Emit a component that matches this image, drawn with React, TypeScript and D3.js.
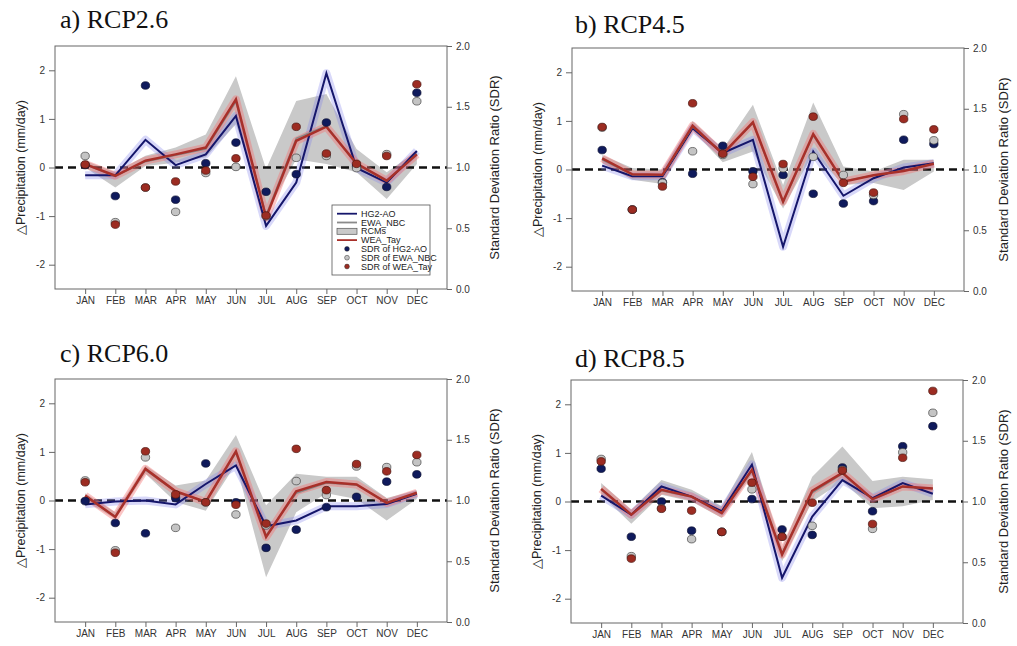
import { useEffect, useRef } from 'react'
import * as d3 from 'd3'

const months = ['JAN', 'FEB', 'MAR', 'APR', 'MAY', 'JUN', 'JUL', 'AUG', 'SEP', 'OCT', 'NOV', 'DEC']

// a) RCP2.6
const hg2A = [-0.16, -0.16, 0.57, 0.05, 0.27, 1.06, -1.2, -0.31, 1.94, -0.01, -0.31, 0.34]
const ewaA = [0.06, -0.18, 0.12, 0.25, 0.38, 1.35, -0.98, 0.6, 0.86, 0.06, -0.28, 0.28]
const weaA = [0.07, -0.17, 0.14, 0.27, 0.41, 1.4, -1.03, 0.55, 0.84, 0.08, -0.27, 0.27]
const rcmHiA = [0.14, -0.1, 0.24, 0.41, 0.68, 1.88, -0.03, 1.37, 1.51, 0.38, -0.1, 0.34]
const rcmLoA = [0.0, -0.41, 0.03, 0.1, 0.21, 0.89, -0.95, 0.17, 0.07, -0.1, -0.65, 0.07]
const sdrHgA = [1.02, 0.765, 1.675, 0.735, 1.035, 1.205, 0.8, 0.945, 1.37, 1.01, 0.84, 1.615]
const sdrEwaA = [1.095, 0.55, 0.835, 0.635, 0.955, 1.005, 0.6, 1.08, 1.095, 0.995, 1.11, 1.545]
const sdrWeaA = [1.025, 0.53, 0.835, 0.885, 0.975, 1.075, 0.605, 1.335, 1.115, 1.03, 1.095, 1.685]

// b) RCP4.5
const hg2B = [0.08, -0.14, -0.14, 0.85, 0.34, 0.61, -1.59, 0.37, -0.54, -0.18, 0.04, 0.13]
const ewaB = [0.2, -0.11, -0.12, 0.88, 0.33, 0.95, -0.68, 0.7, -0.24, -0.12, -0.02, 0.12]
const weaB = [0.23, -0.1, -0.11, 0.9, 0.32, 0.97, -0.66, 0.73, -0.25, -0.12, -0.03, 0.12]
const rcmHiB = [0.3, 0.03, 0.0, 1.0, 0.42, 1.33, -0.32, 1.38, 0.06, -0.04, 0.2, 0.2]
const rcmLoB = [0.13, -0.21, -0.3, 0.8, 0.15, 0.37, -0.8, 0.34, -0.32, -0.28, -0.42, -0.04]
const sdrHgB = [1.16, 0.67, 0.895, 0.965, 1.195, 0.985, 0.955, 0.8, 0.72, 0.74, 1.245, 1.21]
const sdrEwaB = [1.345, 0.67, 0.89, 1.15, 1.12, 0.88, 1.01, 1.105, 0.955, 0.79, 1.455, 1.24]
const sdrWeaB = [1.35, 0.67, 0.86, 1.545, 1.13, 0.94, 1.045, 1.435, 0.89, 0.81, 1.415, 1.33]

// c) RCP6.0
const hg2C = [-0.08, -0.02, 0.0, -0.08, 0.34, 0.72, -0.53, -0.41, -0.12, -0.12, -0.07, 0.14]
const ewaC = [0.08, -0.33, 0.63, 0.18, -0.02, 0.98, -0.72, 0.15, 0.36, 0.32, -0.04, 0.15]
const weaC = [0.1, -0.34, 0.65, 0.19, -0.03, 1.01, -0.75, 0.19, 0.38, 0.33, -0.05, 0.16]
const rcmHiC = [0.15, -0.24, 0.72, 0.31, 0.41, 1.35, -0.1, 0.55, 0.49, 0.49, 0.05, 0.21]
const rcmLoC = [0.0, -0.38, 0.55, -0.03, -0.21, 0.75, -1.58, -0.24, 0.15, 0.03, -0.41, 0.03]
const sdrHgC = [0.995, 0.815, 0.73, 1.02, 1.305, 0.985, 0.61, 0.76, 0.945, 1.03, 1.155, 1.215]
const sdrEwaC = [1.165, 0.59, 1.355, 0.775, 0.985, 0.885, 0.795, 1.16, 1.045, 1.28, 1.275, 1.315]
const sdrWeaC = [1.15, 0.57, 1.405, 1.05, 0.985, 0.965, 0.81, 1.425, 1.085, 1.3, 1.24, 1.375]

// d) RCP8.5
const hg2D = [0.12, -0.27, 0.31, 0.1, -0.2, 0.76, -1.57, -0.31, 0.44, 0.07, 0.38, 0.16]
const ewaD = [0.24, -0.27, 0.22, 0.09, -0.23, 0.62, -1.06, 0.18, 0.57, 0.04, 0.3, 0.27]
const weaD = [0.26, -0.27, 0.24, 0.1, -0.24, 0.65, -1.09, 0.22, 0.59, 0.05, 0.31, 0.27]
const rcmHiD = [0.38, -0.17, 0.44, 0.24, -0.1, 1.02, -0.96, 0.51, 1.13, 0.42, 0.51, 0.46]
const rcmLoD = [0.14, -0.46, 0.14, 0.0, -0.34, 0.55, -1.23, 0.0, 0.41, -0.14, -0.1, 0.03]
const sdrHgD = [1.27, 0.71, 1.0, 0.76, 0.75, 1.02, 0.77, 0.725, 1.28, 0.92, 1.455, 1.62]
const sdrEwaD = [1.35, 0.55, 0.945, 0.69, 0.75, 1.1, 0.71, 0.8, 1.26, 0.775, 1.405, 1.73]
const sdrWeaD = [1.33, 0.53, 0.94, 0.925, 0.75, 1.155, 0.71, 0.99, 1.255, 0.815, 1.36, 1.91]

const leftTicks = [-2, -1, 0, 1, 2]
const rightTicks = [0, 0.5, 1, 1.5, 2]

const panels = [
  { title: 'a) RCP2.6', left: 55, top: 46, tx: 60, ty: 28, rlx: 495, legend: true,
    hg2: hg2A, ewa: ewaA, wea: weaA, hi: rcmHiA, lo: rcmLoA, sHg: sdrHgA, sEwa: sdrEwaA, sWea: sdrWeaA },
  { title: 'b) RCP4.5', left: 572, top: 48, tx: 575, ty: 33, rlx: 1004, legend: false,
    hg2: hg2B, ewa: ewaB, wea: weaB, hi: rcmHiB, lo: rcmLoB, sHg: sdrHgB, sEwa: sdrEwaB, sWea: sdrWeaB },
  { title: 'c) RCP6.0', left: 55, top: 379, tx: 60, ty: 362, rlx: 495, legend: false,
    hg2: hg2C, ewa: ewaC, wea: weaC, hi: rcmHiC, lo: rcmLoC, sHg: sdrHgC, sEwa: sdrEwaC, sWea: sdrWeaC },
  { title: 'd) RCP8.5', left: 571, top: 380, tx: 575, ty: 367, rlx: 1004, legend: false,
    hg2: hg2D, ewa: ewaD, wea: weaD, hi: rcmHiD, lo: rcmLoD, sHg: sdrHgD, sEwa: sdrEwaD, sWea: sdrWeaD }
]

const W = 392
const H = 243
const sans = 'Liberation Sans, Arial, sans-serif'
const serif = 'Liberation Serif, Times New Roman, serif'
const navy = '#15166b'
const red = '#a8302a'

export default function App() {
  const svgRef = useRef<SVGSVGElement>(null)

  useEffect(() => {
    const svg = d3.select(svgRef.current)
    svg.selectAll('*').remove()

    panels.forEach(p => {
      const g = svg.append('g').attr('transform', `translate(${p.left},${p.top})`)
      const x = d3.scalePoint<string>().domain(months).range([0, W]).padding(1)
      const y = d3.scaleLinear().domain([-2.5, 2.5]).range([H, 0])
      const ys = d3.scaleLinear().domain([0, 2]).range([H, 0])

      // title
      svg.append('text')
        .attr('x', p.tx).attr('y', p.ty)
        .attr('font-family', serif).attr('font-size', 26).attr('fill', '#111')
        .text(p.title)

      // RCM envelope
      const band = d3.area<number>()
        .x((_, i) => x(months[i])!)
        .y0((_, i) => y(p.lo[i]))
        .y1((_, i) => y(p.hi[i]))
      g.append('path').datum(p.hi).attr('d', band).attr('fill', '#c9c9c9')

      // zero line
      g.append('line')
        .attr('x1', 0).attr('x2', W).attr('y1', y(0)).attr('y2', y(0))
        .attr('stroke', '#111').attr('stroke-width', 2.5).attr('stroke-dasharray', '8,5')

      const line = d3.line<number>().x((_, i) => x(months[i])!).y(d => y(d))

      // halos
      g.append('path').datum(p.hg2).attr('d', line).attr('fill', 'none')
        .attr('stroke', 'rgba(125,125,235,0.3)').attr('stroke-width', 8).attr('stroke-linejoin', 'round')
      g.append('path').datum(p.wea).attr('d', line).attr('fill', 'none')
        .attr('stroke', 'rgba(245,110,110,0.4)').attr('stroke-width', 8).attr('stroke-linejoin', 'round')

      g.append('path').datum(p.hg2).attr('d', line).attr('fill', 'none')
        .attr('stroke', navy).attr('stroke-width', 2)
      g.append('path').datum(p.ewa).attr('d', line).attr('fill', 'none')
        .attr('stroke', '#8a8a8a').attr('stroke-width', 1.5)
      g.append('path').datum(p.wea).attr('d', line).attr('fill', 'none')
        .attr('stroke', red).attr('stroke-width', 2.5)

      // SDR points
      const dots = [
        { data: p.sHg, fill: '#0f1a5c', stroke: '#0a0f30' },
        { data: p.sEwa, fill: '#c4c4c4', stroke: '#444' },
        { data: p.sWea, fill: '#9c2c22', stroke: '#4a140e' }
      ]
      dots.forEach(s => {
        g.append('g').selectAll('ellipse')
          .data(s.data)
          .join('ellipse')
          .attr('cx', (_, i) => x(months[i])!)
          .attr('cy', d => ys(d))
          .attr('rx', 4.2).attr('ry', 3.8)
          .attr('fill', s.fill).attr('stroke', s.stroke).attr('stroke-width', 0.7)
      })

      // frame
      g.append('rect').attr('width', W).attr('height', H)
        .attr('fill', 'none').attr('stroke', '#666').attr('stroke-width', 1)

      const styleAxis = (sel: any) => {
        sel.select('.domain').remove()
        sel.selectAll('.tick line').attr('stroke', '#666')
        sel.selectAll('.tick text').attr('fill', '#333').attr('font-family', sans).attr('font-size', 10)
      }

      g.append('g')
        .call(d3.axisLeft(y).tickValues(leftTicks).tickFormat(d => String(d)).tickSize(6).tickPadding(4))
        .call(styleAxis)
      g.append('g').attr('transform', `translate(${W},0)`)
        .call(d3.axisRight(ys).tickValues(rightTicks).tickFormat(d3.format('.1f')).tickSize(5).tickPadding(4))
        .call(styleAxis)
      g.append('g').attr('transform', `translate(0,${H})`)
        .call(d3.axisBottom(x).tickSize(5).tickPadding(3))
        .call(styleAxis)

      // axis titles
      svg.append('text')
        .attr('transform', `translate(${p.left - 30},${p.top + H / 2}) rotate(-90)`)
        .attr('text-anchor', 'middle').attr('font-family', sans).attr('font-size', 12.5).attr('fill', '#222')
        .text('\u25B3Precipitation (mm/day)')
      svg.append('text')
        .attr('transform', `translate(${p.rlx + 4},${p.top + H / 2}) rotate(-90)`)
        .attr('text-anchor', 'middle').attr('font-family', sans).attr('font-size', 13).attr('fill', '#222')
        .text('Standard Deviation Ratio (SDR)')

      if (p.legend) {
        const lg = g.append('g').attr('transform', `translate(${332 - p.left},${205 - p.top})`)
        lg.append('rect').attr('width', 98).attr('height', 70)
          .attr('fill', 'white').attr('stroke', '#555').attr('stroke-width', 0.8)
        const items = [
          { label: 'HG2-AO', kind: 'line', color: navy },
          { label: 'EWA_NBC', kind: 'line', color: '#8a8a8a' },
          { label: 'RCMs', kind: 'box', color: '#c9c9c9' },
          { label: 'WEA_Tay', kind: 'line', color: red },
          { label: 'SDR of HG2-AO', kind: 'dot', color: '#0f1a5c' },
          { label: 'SDR of EWA_NBC', kind: 'dot', color: '#c4c4c4' },
          { label: 'SDR of WEA_Tay', kind: 'dot', color: '#9c2c22' }
        ]
        items.forEach((it, i) => {
          const cy = 8.7 + i * 8.8
          if (it.kind === 'line') {
            lg.append('line').attr('x1', 5).attr('x2', 25).attr('y1', cy).attr('y2', cy)
              .attr('stroke', it.color).attr('stroke-width', 1.8)
          } else if (it.kind === 'box') {
            lg.append('rect').attr('x', 5).attr('y', cy - 3).attr('width', 20).attr('height', 6)
              .attr('fill', it.color).attr('stroke', '#555').attr('stroke-width', 0.7)
          } else {
            lg.append('circle').attr('cx', 15).attr('cy', cy).attr('r', 2.4)
              .attr('fill', it.color).attr('stroke', '#333').attr('stroke-width', 0.5)
          }
          lg.append('text').attr('x', 29).attr('y', cy).attr('dy', '0.35em')
            .attr('font-family', sans).attr('font-size', 9).attr('fill', '#222')
            .text(it.label)
        })
      }
    })
  }, [])

  return (
    <svg
      ref={svgRef}
      width={1017}
      height={646}
      style={{ position: 'absolute', left: 0, top: 0, background: 'white' }}
    />
  )
}
